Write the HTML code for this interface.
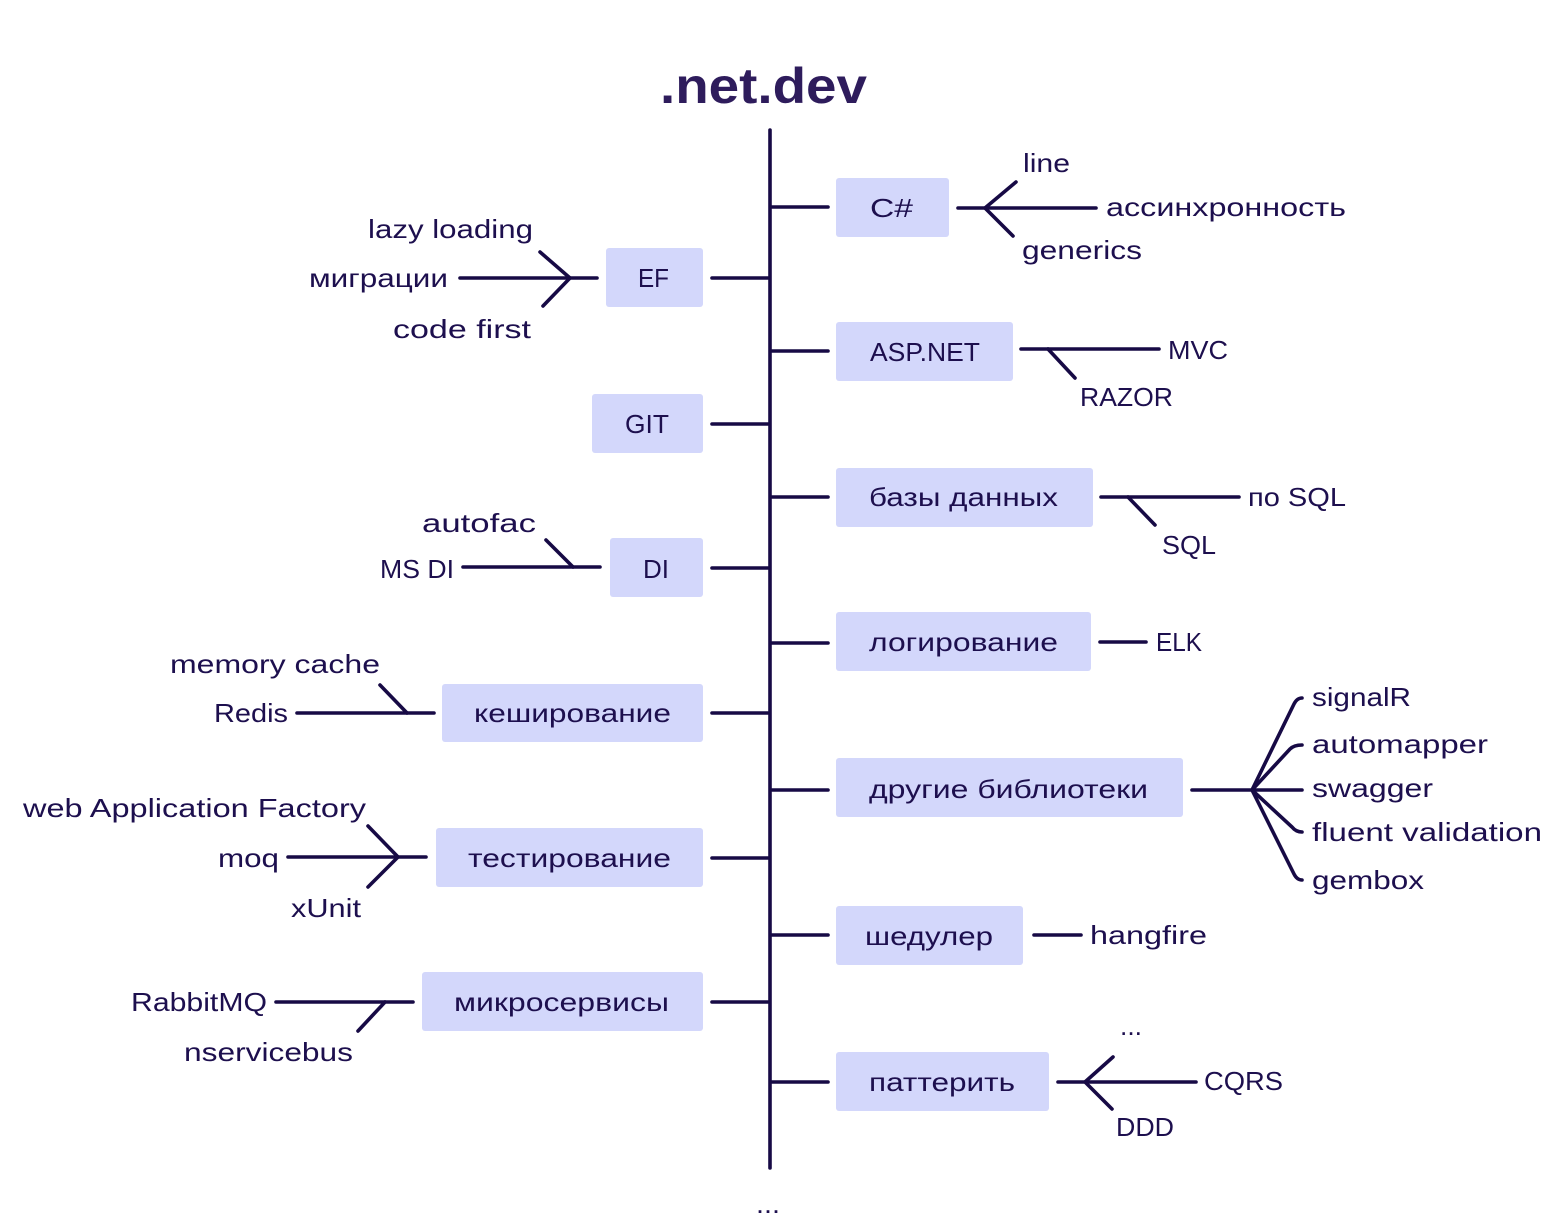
<!DOCTYPE html>
<html><head><meta charset="utf-8"><style>
html,body{margin:0;padding:0;background:#fff;}
svg{display:block;}
text{font-family:"Liberation Sans","DejaVu Sans",sans-serif;font-size:26px;fill:#1d0f4e;}
</style></head><body>
<svg width="1552" height="1220" viewBox="0 0 1552 1220" xmlns="http://www.w3.org/2000/svg">
<g fill="#d3d7fb">
<rect x="836" y="178" width="113" height="59" rx="3"/>
<rect x="836" y="322" width="177" height="59" rx="3"/>
<rect x="836" y="468" width="257" height="59" rx="3"/>
<rect x="836" y="612" width="255" height="59" rx="3"/>
<rect x="836" y="758" width="347" height="59" rx="3"/>
<rect x="836" y="906" width="187" height="59" rx="3"/>
<rect x="836" y="1052" width="213" height="59" rx="3"/>
<rect x="606" y="248" width="97" height="59" rx="3"/>
<rect x="592" y="394" width="111" height="59" rx="3"/>
<rect x="610" y="538" width="93" height="59" rx="3"/>
<rect x="442" y="684" width="261" height="58" rx="3"/>
<rect x="436" y="828" width="267" height="59" rx="3"/>
<rect x="422" y="972" width="281" height="59" rx="3"/>
</g>
<g stroke="#170a45" stroke-width="3.6" stroke-linecap="round" fill="none">
<line x1="770" y1="130" x2="770" y2="1168"/>
<line x1="772" y1="207" x2="828" y2="207"/>
<line x1="772" y1="351" x2="828" y2="351"/>
<line x1="772" y1="497" x2="828" y2="497"/>
<line x1="772" y1="643" x2="828" y2="643"/>
<line x1="772" y1="790" x2="828" y2="790"/>
<line x1="772" y1="935" x2="828" y2="935"/>
<line x1="772" y1="1082" x2="828" y2="1082"/>
<line x1="712" y1="278" x2="768" y2="278"/>
<line x1="712" y1="424" x2="768" y2="424"/>
<line x1="712" y1="568" x2="768" y2="568"/>
<line x1="712" y1="713" x2="768" y2="713"/>
<line x1="712" y1="858" x2="768" y2="858"/>
<line x1="712" y1="1002" x2="768" y2="1002"/>
<!-- C# -->
<line x1="958" y1="208" x2="1096" y2="208"/>
<polyline points="1016,182 985,208 1013,236"/>
<!-- ASP -->
<line x1="1021" y1="349" x2="1159" y2="349"/>
<line x1="1048" y1="349" x2="1075" y2="378"/>
<!-- DB -->
<line x1="1101" y1="497" x2="1239" y2="497"/>
<line x1="1128" y1="497" x2="1155" y2="525"/>
<!-- log -->
<line x1="1100" y1="642" x2="1146" y2="642"/>
<!-- libs -->
<line x1="1192" y1="790" x2="1302" y2="790"/>
<path d="M1252,790 L1294,704 Q1297,698 1302,698"/>
<path d="M1252,790 L1290,749 Q1294,745 1302,745"/>
<path d="M1252,790 L1292,827 Q1296,832 1302,832"/>
<path d="M1252,790 L1294,874 Q1297,880 1302,880"/>
<!-- sched -->
<line x1="1034" y1="935" x2="1081" y2="935"/>
<!-- patterns -->
<line x1="1058" y1="1082" x2="1196" y2="1082"/>
<polyline points="1113,1057 1085,1082 1112,1109"/>
<!-- EF -->
<line x1="460" y1="278" x2="597" y2="278"/>
<polyline points="540,252 570,278 543,306"/>
<!-- DI -->
<line x1="463" y1="567" x2="600" y2="567"/>
<line x1="573" y1="567" x2="546" y2="540"/>
<!-- cache -->
<line x1="297" y1="713" x2="434" y2="713"/>
<line x1="407" y1="713" x2="380" y2="685"/>
<!-- test -->
<line x1="288" y1="857" x2="426" y2="857"/>
<polyline points="368,826 398,857 368,887"/>
<!-- micro -->
<line x1="276" y1="1002" x2="413" y2="1002"/>
<line x1="385" y1="1002" x2="358" y2="1031"/>
</g>
<text x="660" y="103" textLength="207" lengthAdjust="spacingAndGlyphs" style="font-size:50px;font-weight:bold;fill:#2e1c5c">.net.dev</text>
<text x="756" y="1213" textLength="24" lengthAdjust="spacingAndGlyphs">...</text>
<g>
<text x="870" y="217" textLength="43" lengthAdjust="spacingAndGlyphs">C#</text>
<text x="1023" y="172" textLength="47" lengthAdjust="spacingAndGlyphs">line</text>
<text x="1106" y="216" textLength="240" lengthAdjust="spacingAndGlyphs">ассинхронность</text>
<text x="1022" y="259" textLength="120" lengthAdjust="spacingAndGlyphs">generics</text>
<text x="870" y="361" textLength="110" lengthAdjust="spacingAndGlyphs">ASP.NET</text>
<text x="1168" y="359" textLength="60" lengthAdjust="spacingAndGlyphs">MVC</text>
<text x="1080" y="406" textLength="93" lengthAdjust="spacingAndGlyphs">RAZOR</text>
<text x="869" y="506" textLength="189" lengthAdjust="spacingAndGlyphs">базы данных</text>
<text x="1248" y="506" textLength="98" lengthAdjust="spacingAndGlyphs">по SQL</text>
<text x="1162" y="554" textLength="54" lengthAdjust="spacingAndGlyphs">SQL</text>
<text x="869" y="651" textLength="189" lengthAdjust="spacingAndGlyphs">логирование</text>
<text x="1156" y="651" textLength="46" lengthAdjust="spacingAndGlyphs">ELK</text>
<text x="869" y="798" textLength="279" lengthAdjust="spacingAndGlyphs">другие библиотеки</text>
<text x="1312" y="706" textLength="99" lengthAdjust="spacingAndGlyphs">signalR</text>
<text x="1312" y="753" textLength="176" lengthAdjust="spacingAndGlyphs">automapper</text>
<text x="1312" y="797" textLength="121" lengthAdjust="spacingAndGlyphs">swagger</text>
<text x="1312" y="841" textLength="230" lengthAdjust="spacingAndGlyphs">fluent validation</text>
<text x="1312" y="889" textLength="112" lengthAdjust="spacingAndGlyphs">gembox</text>
<text x="865" y="945" textLength="128" lengthAdjust="spacingAndGlyphs">шедулер</text>
<text x="1090" y="944" textLength="117" lengthAdjust="spacingAndGlyphs">hangfire</text>
<text x="869" y="1091" textLength="146" lengthAdjust="spacingAndGlyphs">паттерить</text>
<text x="1120" y="1035" textLength="22" lengthAdjust="spacingAndGlyphs">...</text>
<text x="1204" y="1090" textLength="79" lengthAdjust="spacingAndGlyphs">CQRS</text>
<text x="1116" y="1136" textLength="58" lengthAdjust="spacingAndGlyphs">DDD</text>
<text x="638" y="287" textLength="31" lengthAdjust="spacingAndGlyphs">EF</text>
<text x="368" y="238" textLength="165" lengthAdjust="spacingAndGlyphs">lazy loading</text>
<text x="309" y="287" textLength="139" lengthAdjust="spacingAndGlyphs">миграции</text>
<text x="393" y="338" textLength="138" lengthAdjust="spacingAndGlyphs">code first</text>
<text x="625" y="433" textLength="44" lengthAdjust="spacingAndGlyphs">GIT</text>
<text x="643" y="578" textLength="26" lengthAdjust="spacingAndGlyphs">DI</text>
<text x="422" y="532" textLength="114" lengthAdjust="spacingAndGlyphs">autofac</text>
<text x="380" y="578" textLength="74" lengthAdjust="spacingAndGlyphs">MS DI</text>
<text x="474" y="722" textLength="197" lengthAdjust="spacingAndGlyphs">кеширование</text>
<text x="170" y="673" textLength="210" lengthAdjust="spacingAndGlyphs">memory cache</text>
<text x="214" y="722" textLength="74" lengthAdjust="spacingAndGlyphs">Redis</text>
<text x="468" y="867" textLength="203" lengthAdjust="spacingAndGlyphs">тестирование</text>
<text x="23" y="817" textLength="343" lengthAdjust="spacingAndGlyphs">web Application Factory</text>
<text x="218" y="867" textLength="61" lengthAdjust="spacingAndGlyphs">moq</text>
<text x="291" y="917" textLength="70" lengthAdjust="spacingAndGlyphs">xUnit</text>
<text x="454" y="1011" textLength="215" lengthAdjust="spacingAndGlyphs">микросервисы</text>
<text x="131" y="1011" textLength="136" lengthAdjust="spacingAndGlyphs">RabbitMQ</text>
<text x="184" y="1061" textLength="169" lengthAdjust="spacingAndGlyphs">nservicebus</text>
</g>
</svg>
</body></html>
